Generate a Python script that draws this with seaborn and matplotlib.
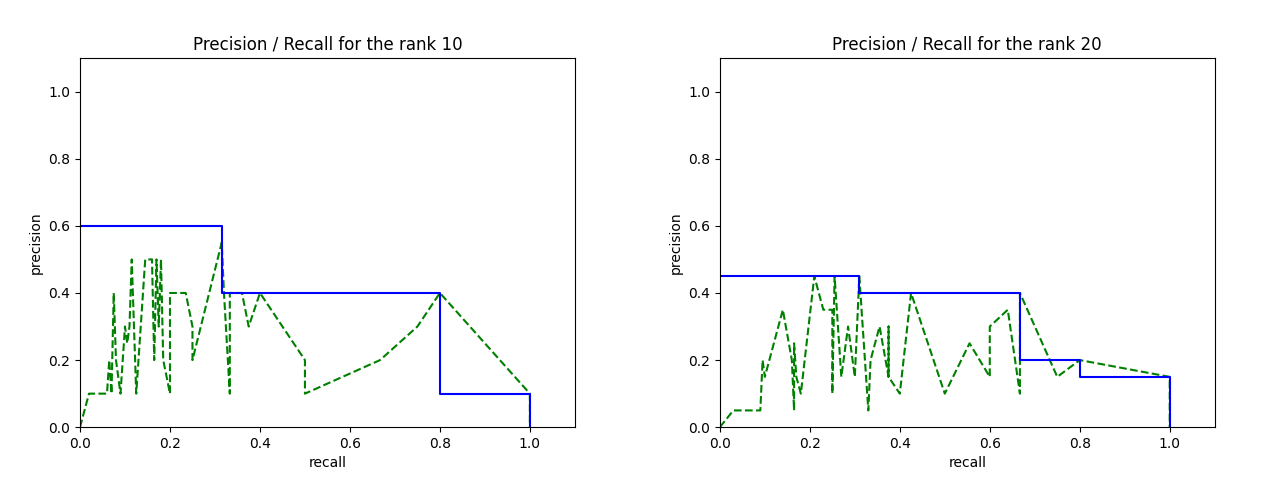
import pandas as pd
import seaborn as sns
import matplotlib
matplotlib.use("Agg")
import matplotlib.pyplot as plt

# Rank 10
r10_rec = [0, 0.02, 0.06, 0.065, 0.07, 0.075, 0.08, 0.09, 0.10, 0.105, 0.11, 0.115, 0.12, 0.125,
           0.145, 0.16, 0.165, 0.17, 0.175, 0.18, 0.185, 0.2, 0.2, 0.235, 0.25, 0.25, 0.315,
           0.32, 0.333, 0.333, 0.36, 0.375, 0.4, 0.5, 0.5, 0.667, 0.75, 0.8, 1.0, 1.0]
r10_prec = [0, 0.1, 0.1, 0.2, 0.1, 0.4, 0.2, 0.1, 0.3, 0.25, 0.3, 0.5, 0.3, 0.1,
            0.5, 0.5, 0.2, 0.5, 0.3, 0.5, 0.2, 0.1, 0.4, 0.4, 0.3, 0.2, 0.55,
            0.4, 0.1, 0.4, 0.4, 0.3, 0.4, 0.2, 0.1, 0.2, 0.3, 0.4, 0.1, 0.0]
r10_step_rec = [0, 0.316, 0.316, 0.8, 0.8, 1.0, 1.0]
r10_step_prec = [0.6, 0.6, 0.4, 0.4, 0.1, 0.1, 0.0]

# Rank 20
r20_rec = [0, 0.03, 0.09, 0.095, 0.10, 0.14, 0.16, 0.165, 0.165, 0.17, 0.18, 0.21, 0.23, 0.25,
           0.25, 0.255, 0.27, 0.285, 0.30, 0.31, 0.33, 0.335, 0.355, 0.375, 0.375, 0.375,
           0.4, 0.425, 0.5, 0.555, 0.6, 0.6, 0.64, 0.667, 0.667, 0.75, 0.8, 1.0, 1.0]
r20_prec = [0, 0.05, 0.05, 0.2, 0.15, 0.35, 0.2, 0.05, 0.25, 0.15, 0.1, 0.45, 0.35, 0.35,
            0.1, 0.45, 0.15, 0.3, 0.15, 0.45, 0.05, 0.2, 0.3, 0.15, 0.3, 0.15,
            0.1, 0.4, 0.1, 0.25, 0.15, 0.3, 0.35, 0.1, 0.4, 0.15, 0.2, 0.15, 0.0]
r20_step_rec = [0, 0.31, 0.31, 0.667, 0.667, 0.8, 0.8, 1.0, 1.0]
r20_step_prec = [0.45, 0.45, 0.4, 0.4, 0.2, 0.2, 0.15, 0.15, 0.0]

datos = [
    (10, r10_rec, r10_prec, r10_step_rec, r10_step_prec),
    (20, r20_rec, r20_prec, r20_step_rec, r20_step_prec),
]

fig, axes = plt.subplots(1, 2, figsize=(12.8, 4.8), dpi=100)
plt.subplots_adjust(left=0.0625, right=0.949, top=0.879, bottom=0.11, wspace=0.293)

for ax, (rank, rec, prec, srec, sprec) in zip(axes, datos):
    df = pd.DataFrame({"recall": rec, "precision": prec})
    dfs = pd.DataFrame({"recall": srec, "precision": sprec})
    sns.lineplot(data=df, x="recall", y="precision", sort=False, estimator=None,
                 color="green", linestyle="--", linewidth=1.5, ax=ax)
    sns.lineplot(data=dfs, x="recall", y="precision", sort=False, estimator=None,
                 color="blue", linewidth=1.5, ax=ax)
    ax.set_xlim(0, 1.1)
    ax.set_ylim(0, 1.1)
    ax.set_xticks([0, 0.2, 0.4, 0.6, 0.8, 1.0])
    ax.set_yticks([0, 0.2, 0.4, 0.6, 0.8, 1.0])
    ax.set_title(f"Precision / Recall for the rank {rank}")

plt.savefig("out.png")
